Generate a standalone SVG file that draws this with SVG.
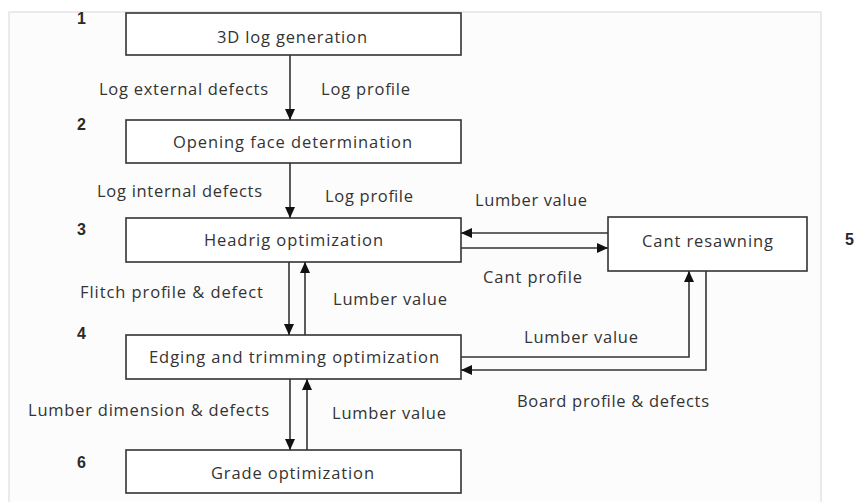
<svg xmlns="http://www.w3.org/2000/svg" width="856" height="502" viewBox="0 0 856 502">
<defs>
<style>
.frame{fill:#fcfcfc;stroke:#e4e4e4;stroke-width:1.5}
.box{fill:#ffffff;stroke:#333333;stroke-width:1.6}
.lbl{font-family:"Open Sans","Liberation Sans",sans-serif;font-size:16.5px;fill:#333333}
.num{font-family:"Liberation Sans",Arial,sans-serif;font-size:16px;font-weight:bold;fill:#2a2a2a}
.con{fill:none;stroke:#333333;stroke-width:1.6;marker-end:url(#ah)}
</style>
<marker id="ah" viewBox="0 0 10 10" refX="10" refY="5" markerWidth="11" markerHeight="10" markerUnits="userSpaceOnUse" orient="auto" preserveAspectRatio="none">
<path d="M0,0 L10,5 L0,10 z" fill="#111111"/>
</marker>
</defs>
<rect class="frame" x="9" y="12" width="812" height="492"/>

<g id="n1">
<rect class="box" x="126" y="13" width="335" height="42"/>
<text class="lbl" x="217" y="43" textLength="150" lengthAdjust="spacing">3D log generation</text>
</g>
<g id="n2">
<rect class="box" x="126" y="120" width="335" height="43"/>
<text class="lbl" x="173" y="148" textLength="239" lengthAdjust="spacing">Opening face determination</text>
</g>
<g id="n3">
<rect class="box" x="126" y="218" width="335" height="44"/>
<text class="lbl" x="204" y="246" textLength="179" lengthAdjust="spacing">Headrig optimization</text>
</g>
<g id="n4">
<rect class="box" x="126" y="335" width="335" height="44"/>
<text class="lbl" x="149" y="363" textLength="290" lengthAdjust="spacing">Edging and trimming optimization</text>
</g>
<g id="n6">
<rect class="box" x="126" y="450" width="335" height="43"/>
<text class="lbl" x="211" y="479" textLength="163" lengthAdjust="spacing">Grade optimization</text>
</g>
<g id="n5">
<rect class="box" x="608" y="217" width="199" height="54"/>
<text class="lbl" x="642" y="247" textLength="131" lengthAdjust="spacing">Cant resawning</text>
</g>

<g id="numbers">
<text class="num" x="77" y="24">1</text>
<text class="num" x="77" y="130">2</text>
<text class="num" x="77" y="235">3</text>
<text class="num" x="77" y="339">4</text>
<text class="num" x="845" y="245">5</text>
<text class="num" x="77" y="468">6</text>
</g>

<g id="connectors">
<path class="con" d="M290,55 V120"/>
<path class="con" d="M290,163 V218"/>
<path class="con" d="M289,262 V335"/>
<path class="con" d="M305,335 V262"/>
<path class="con" d="M290,379 V450"/>
<path class="con" d="M307,450 V379"/>
<path class="con" d="M608,233 H461"/>
<path class="con" d="M461,248 H608"/>
<path class="con" d="M461,357 H689 V271"/>
<path class="con" d="M706,271 V370 H461"/>
</g>

<g id="connector-labels">
<text class="lbl" x="99" y="95" textLength="169" lengthAdjust="spacing">Log external defects</text>
<text class="lbl" x="321" y="95" textLength="89" lengthAdjust="spacing">Log profile</text>
<text class="lbl" x="97" y="197" textLength="165" lengthAdjust="spacing">Log internal defects</text>
<text class="lbl" x="325" y="202" textLength="88" lengthAdjust="spacing">Log profile</text>
<text class="lbl" x="475" y="206" textLength="112" lengthAdjust="spacing">Lumber value</text>
<text class="lbl" x="483" y="283" textLength="99" lengthAdjust="spacing">Cant profile</text>
<text class="lbl" x="80" y="298" textLength="183" lengthAdjust="spacing">Flitch profile &amp; defect</text>
<text class="lbl" x="333" y="305" textLength="114" lengthAdjust="spacing">Lumber value</text>
<text class="lbl" x="524" y="343" textLength="114" lengthAdjust="spacing">Lumber value</text>
<text class="lbl" x="517" y="407" textLength="192" lengthAdjust="spacing">Board profile &amp; defects</text>
<text class="lbl" x="28" y="416" textLength="241" lengthAdjust="spacing">Lumber dimension &amp; defects</text>
<text class="lbl" x="332" y="419" textLength="114" lengthAdjust="spacing">Lumber value</text>
</g>
</svg>
